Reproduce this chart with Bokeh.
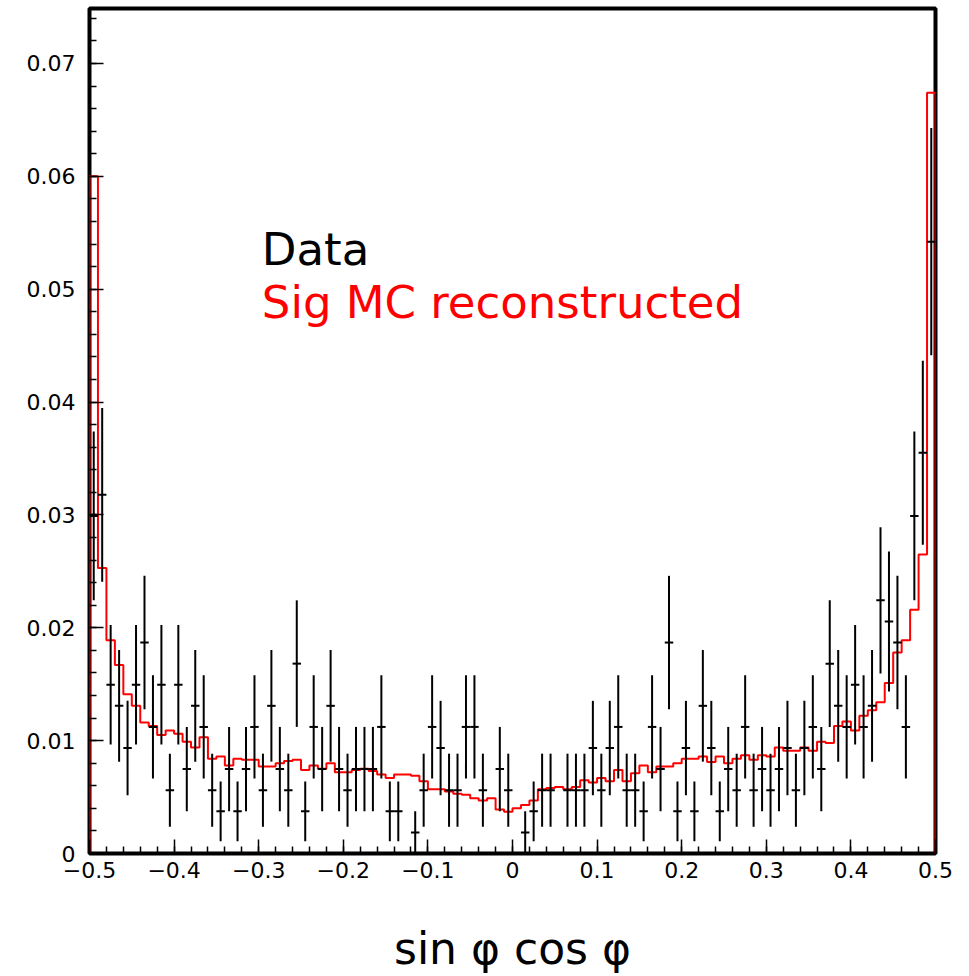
import numpy as np
from bokeh.plotting import figure
from bokeh.models import (Range1d, Label, ColumnDataSource, CustomJSTickFormatter,
                          SingleIntervalTicker)
from bokeh.embed import file_html
from bokeh.resources import INLINE

# ---- data ----
x_min, x_max, n_bins = -0.5, 0.5, 100

# data: entries per bin (normalised to unit area when drawn)
data_counts = [
    16, 17, 8, 7, 5, 8, 10, 6, 8, 3,
    8, 4, 7, 6, 3, 2, 4, 2, 4, 6,
    3, 7, 4, 3, 9, 2, 6, 4, 7, 4,
    3, 4, 4, 4, 6, 2, 2, 0, 1, 3,
    6, 5, 3, 3, 6, 6, 3, 0, 4, 3,
    0, 1, 2, 3, 3, 0, 3, 3, 3, 5,
    3, 5, 6, 3, 3, 2, 6, 4, 10, 2,
    5, 2, 7, 5, 2, 4, 3, 6, 3, 4,
    3, 4, 5, 3, 5, 6, 4, 9, 7, 6,
    8, 6, 7, 12, 11, 10, 6, 16, 19, 29,
]

# signal MC reconstructed (normalised histogram contents)
mc_values = [
    0.0600, 0.0253, 0.0189, 0.0167, 0.0141, 0.0131, 0.0116, 0.0113, 0.0105, 0.0109,
    0.0106, 0.0099, 0.0094, 0.0103, 0.0084, 0.0086, 0.0078, 0.0084, 0.0083, 0.0083,
    0.0077, 0.0077, 0.0080, 0.0082, 0.0083, 0.0074, 0.0078, 0.0075, 0.0080, 0.0072,
    0.0072, 0.0074, 0.0075, 0.0073, 0.0070, 0.0067, 0.0070, 0.0070, 0.0069, 0.0064,
    0.0057, 0.0057, 0.0055, 0.0053, 0.0052, 0.0049, 0.0047, 0.0049, 0.0039, 0.0037,
    0.0040, 0.0043, 0.0047, 0.0057, 0.0058, 0.0059, 0.0057, 0.0059, 0.0065, 0.0063,
    0.0067, 0.0064, 0.0074, 0.0064, 0.0071, 0.0078, 0.0072, 0.0077, 0.0077, 0.0080,
    0.0084, 0.0084, 0.0086, 0.0081, 0.0086, 0.0080, 0.0084, 0.0087, 0.0083, 0.0087,
    0.0086, 0.0094, 0.0091, 0.0091, 0.0094, 0.0091, 0.0099, 0.0098, 0.0113, 0.0117,
    0.0109, 0.0122, 0.0127, 0.0134, 0.0151, 0.0178, 0.0189, 0.0216, 0.0265, 0.0674,
]

y_max = 0.07487
x_title = "sin φ cos φ"
label_data = "Data"
label_mc = "Sig MC reconstructed"

# ---- derived arrays ----
edges = np.linspace(x_min, x_max, n_bins + 1)
centers = 0.5 * (edges[:-1] + edges[1:])
half_w = 0.5 * (edges[1:] - edges[:-1])
counts = np.array(data_counts, dtype=float)
total = counts.sum()
yv = counts / total
ye = np.sqrt(counts) / total
m = counts > 0

err_src = ColumnDataSource(dict(
    x=centers[m], lo=(yv - ye)[m], hi=(yv + ye)[m], y=yv[m],
    xl=(centers - half_w)[m], xr=(centers + half_w)[m],
))

mc = np.array(mc_values)
step_x = np.concatenate([[edges[0]], np.repeat(edges, 2)[1:-1], [edges[-1]]])
step_y = np.concatenate([[0.0], np.repeat(mc, 2), [0.0]])

# ---- figure ----
p = figure(width=960, height=976, output_backend="svg", toolbar_location=None,
           x_range=Range1d(x_min, x_max), y_range=Range1d(0, y_max),
           min_border_left=89, min_border_right=25, min_border_top=8,
           min_border_bottom=122)
p.background_fill_color = "white"
p.border_fill_color = "white"
p.outline_line_color = "black"
p.outline_line_width = 4
p.grid.visible = False

# MC histogram
p.line(step_x, step_y, line_color="#ff0000", line_width=2)

# data error bars
p.segment(x0="x", y0="lo", x1="x", y1="hi", source=err_src,
          line_color="black", line_width=2)
p.segment(x0="xl", y0="y", x1="xr", y1="y", source=err_src,
          line_color="black", line_width=2)

# axes
p.xaxis.ticker = SingleIntervalTicker(interval=0.1, num_minor_ticks=5)
p.yaxis.ticker = SingleIntervalTicker(interval=0.01, num_minor_ticks=5)
p.xaxis.formatter = CustomJSTickFormatter(
    code="if (Math.abs(tick) < 1e-9) return '0'; return tick.toFixed(1).replace('-', '\u2212');")
p.yaxis.formatter = CustomJSTickFormatter(
    code="if (Math.abs(tick) < 1e-9) return '0'; return tick.toFixed(2);")

for ax in (p.xaxis[0], p.yaxis[0]):
    ax.axis_line_color = None
    ax.major_tick_in = 14
    ax.major_tick_out = 0
    ax.minor_tick_in = 7
    ax.minor_tick_out = 0
    ax.major_tick_line_color = "black"
    ax.minor_tick_line_color = "black"
    ax.major_tick_line_width = 1.5
    ax.minor_tick_line_width = 1.5
    ax.major_label_text_font = "DejaVu Sans"
    ax.major_label_text_font_size = "22px"
    ax.major_label_text_color = "black"

p.yaxis.major_label_standoff = 14
p.xaxis.major_label_standoff = 8

p.xaxis.axis_label = x_title
p.xaxis.axis_label_text_font = "DejaVu Sans"
p.xaxis.axis_label_text_font_size = "44px"
p.xaxis.axis_label_text_font_style = "normal"
p.xaxis.axis_label_text_color = "black"
p.xaxis.axis_label_standoff = 42

p.add_layout(Label(x=-0.2963, y=0.0535, text=label_data, text_color="black",
                   text_font="DejaVu Sans", text_font_size="45px",
                   text_baseline="alphabetic"))
p.add_layout(Label(x=-0.2963, y=0.0488, text=label_mc, text_color="#ff0000",
                   text_font="DejaVu Sans", text_font_size="45px",
                   text_baseline="alphabetic"))

with open("out.html", "w", encoding="utf-8") as f:
    f.write(file_html(p, INLINE))
